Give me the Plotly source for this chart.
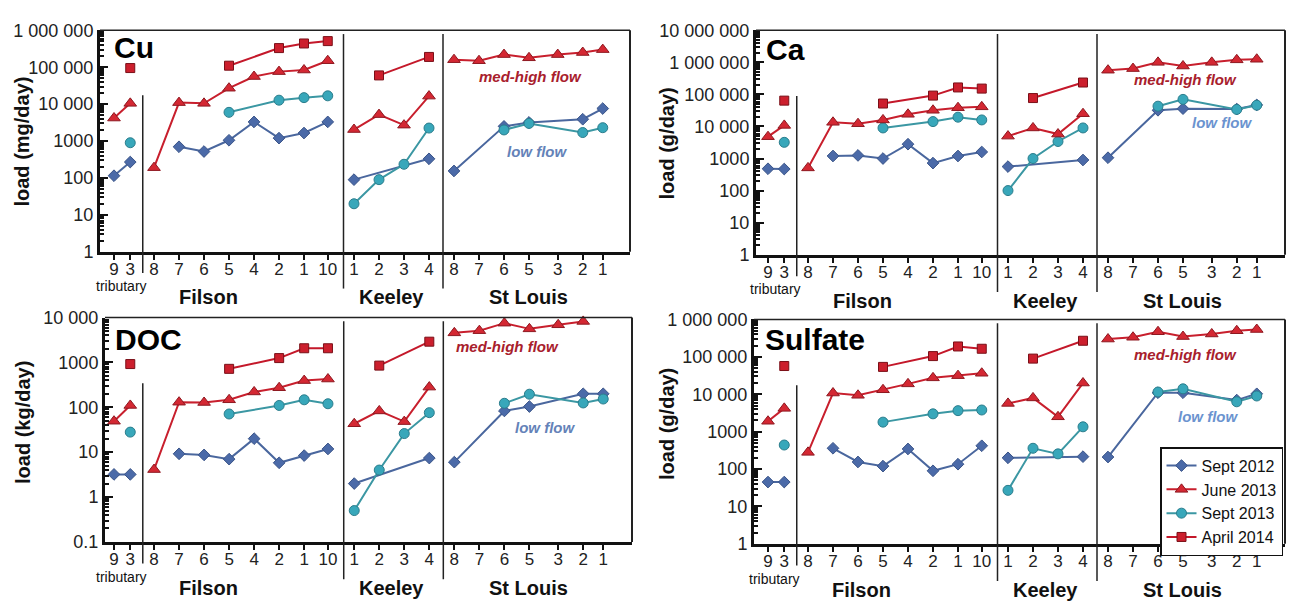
import plotly.graph_objects as go

# ---------------- data ----------------
site_ids = ["T9", "T3", "F8", "F7", "F6", "F5", "F4", "F2", "F1", "F10",
            "K1", "K2", "K3", "K4", "S8", "S7", "S6", "S5", "S3", "S2", "S1"]
site_ticks = ["9", "3", "8", "7", "6", "5", "4", "2", "1", "10",
              "1", "2", "3", "4", "8", "7", "6", "5", "3", "2", "1"]
site_group = ["T"] * 2 + ["F"] * 8 + ["K"] * 4 + ["S"] * 7
site_slot = [0.4, 1.05, 2, 3, 4, 5, 6, 7, 8, 8.95,
             10, 11, 12, 13, 14, 15, 16, 17, 18.15, 19.15, 19.95]

series_names = ["Sept 2012", "June 2013", "Sept 2013", "April 2014"]

N = None
cu_sept2012 = [115, 270, N, 700, 520, 1050, 3300, 1200, 1650, 3300, 90, N, N, 330, 155, N, 2500, 3200, N, 3900, 7600]
cu_june2013 = [4200, 10500, 190, 11000, 10500, 27000, 56000, 76000, 84000, 150000, 2050, 5200, 2700, 16500,
               160000, 150000, 220000, 180000, 220000, 250000, 300000]
cu_sept2013 = [N, 900, N, N, N, 6000, N, 12800, 15000, 16800, 20, 90, 235, 2250, N, N, 2000, 3000, N, 1700, 2300]
cu_april2014 = [N, 95000, N, N, N, 110000, N, 330000, 440000, 510000, N, 60000, N, 190000, N, N, N, N, N, N, N]

ca_sept2012 = [480, 470, N, 1200, 1250, 1000, 2800, 720, 1200, 1600, 560, N, N, 900, 1060, N, 32000, 36000, N, 35000, 47000]
ca_june2013 = [4800, 10800, 510, 13500, 12200, 16000, 24000, 32000, 38500, 41000, 5000, 9000, 5800, 25000,
               570000, 640000, 1000000, 770000, 1000000, 1200000, 1250000]
ca_sept2013 = [N, 3200, N, N, N, 9000, N, 14200, 19500, 16000, 100, 1000, 3400, 9000, N, N, 43000, 70000, N, 34000, 46000]
ca_april2014 = [N, 64000, N, N, N, 52000, N, 92000, 165000, 152000, N, 77000, N, 235000, N, N, N, N, N, N, N]

doc_sept2012 = [3.2, 3.2, N, 9.2, 8.7, 7.0, 20, 5.8, 8.4, 11.8, 2.0, N, N, 7.4, 6.0, N, 83, 104, N, 200, 200]
doc_june2013 = [49, 110, 4.1, 130, 128, 147, 220, 273, 394, 427, 43, 83, 48, 282,
                4560, 5100, 7500, 5600, 6900, 8200, N]
doc_sept2013 = [N, 28, N, N, N, 71, N, 110, 147, 120, 0.5, 4.0, 26, 76, N, N, 123, 196, N, 125, 153]
doc_april2014 = [N, 920, N, N, N, 720, N, 1250, 2070, 2070, N, 850, N, 2900, N, N, N, N, N, N, N]

so4_sept2012 = [45, 45, N, 360, 155, 120, 345, 90, 135, 420, 200, N, N, 215, 210, N, 11000, 11000, N, 7000, 10300]
so4_june2013 = [1900, 4200, 280, 10800, 9400, 13200, 19000, 27500, 31500, 36500, 5700, 8000, 2500, 20000,
                300000, 335000, 470000, 350000, 410000, 500000, 540000]
so4_sept2013 = [N, 440, N, N, N, 1800, N, 3000, 3650, 3800, 27, 360, 255, 1350, N, N, 11500, 14000, N, 6300, 9000]
so4_april2014 = [N, 57000, N, N, N, 54000, N, 105000, 190000, 165000, N, 90000, N, 270000, N, N, N, N, N, N, N]

panel_labels = ["Cu", "Ca", "DOC", "Sulfate"]
panel_units = ["load (mg/day)", "load (g/day)", "load (kg/day)", "load (g/day)"]
panel_series = [
    [cu_sept2012, cu_june2013, cu_sept2013, cu_april2014],
    [ca_sept2012, ca_june2013, ca_sept2013, ca_april2014],
    [doc_sept2012, doc_june2013, doc_sept2013, doc_april2014],
    [so4_sept2012, so4_june2013, so4_sept2013, so4_april2014],
]
panel_decades = [(0, 6), (0, 7), (-1, 4), (0, 6)]

# ---------------- layout geometry (pixels) ----------------
W, H = 1290, 609
boxes = [(100, 630, 21, 250), (756, 1285, 21, 253), (105, 632, 318, 550), (754, 1285, 320, 552)]
xranges = [(-0.16, 21.04), (-0.08, 21.08), (0.04, 21.1), (-0.16, 21.08)]
dividers = [1.55, 9.58, 13.56]
label_pos = [(38.5, 112), (41, 764), (341, 113), (340.5, 763)]
title_pos = [(22, 136), (667, 138), (23, 427), (667, 428)]
flow_labels = [  # (med-high x, y(log), low x, y(log))
    (17.04, 4.74, 17.32, 2.72),
    (17.08, 5.46, 18.56, 4.13),
    (16.14, 3.35, 17.62, 1.56),
    (17.08, 5.07, 18.0, 3.41),
]

styles = [
    dict(line=dict(color="#4a679e", width=2),
         marker=dict(symbol="diamond", size=9, color="#4b6aa8", line=dict(color="#3a5488", width=1))),
    dict(line=dict(color="#c81f2d", width=2),
         marker=dict(symbol="triangle-up", size=11, color="#d42833", line=dict(color="#8e1820", width=1))),
    dict(line=dict(color="#3b97a3", width=2),
         marker=dict(symbol="circle", size=10, color="#38a7ba", line=dict(color="#2b7d8c", width=1))),
    dict(line=dict(color="#c4182a", width=2),
         marker=dict(symbol="square", size=9, color="#cc1f2d", line=dict(color="#7a1018", width=1))),
]

FONT = "Liberation Sans, Arial, sans-serif"


def fmt(v):
    if v < 1:
        return "0.1"
    v = int(round(v))
    if v >= 10000:
        return "{:,}".format(v).replace(",", " ")
    return str(v)


fig = go.Figure()
layout = dict(
    width=W, height=H, margin=dict(l=0, r=0, t=0, b=0),
    paper_bgcolor="white", plot_bgcolor="white",
    font=dict(family=FONT, color="#111"),
    showlegend=True,
    legend=dict(x=1160 / W, y=1 - 452 / H, xanchor="left", yanchor="top",
                bgcolor="white", bordercolor="#111", borderwidth=1.5,
                font=dict(family=FONT, size=16, color="#111"),
                tracegroupgap=0, itemwidth=30),
)
shapes = []
annotations = []

for p in range(4):
    sfx = "" if p == 0 else str(p + 1)
    xa, ya = "x" + sfx, "y" + sfx
    x0, x1, y0, y1 = boxes[p]
    lo, hi = panel_decades[p]
    xr = xranges[p]

    tickvals = [10.0 ** d for d in range(lo, hi + 1)]
    minor_vals = [m * 10.0 ** d for d in range(lo, hi) for m in range(2, 10)]

    layout["xaxis" + sfx] = dict(
        domain=[x0 / W, x1 / W], anchor=ya, range=list(xr),
        tickmode="array", tickvals=site_slot, ticktext=site_ticks,
        ticks="outside", ticklen=5, tickwidth=1.5, tickcolor="#111",
        ticklabelstandoff=-5,
        tickfont=dict(family=FONT, size=17, color="#222"),
        showline=True, linewidth=3, linecolor="#111",
        showgrid=False, zeroline=False, fixedrange=True,
    )
    layout["yaxis" + sfx] = dict(
        domain=[1 - y1 / H, 1 - y0 / H], anchor=xa, type="log", range=[lo, hi],
        tickmode="array", tickvals=tickvals, ticktext=[fmt(v) for v in tickvals],
        ticks="inside", ticklen=8, tickwidth=2, tickcolor="#111",
        tickfont=dict(family=FONT, size=18, color="#222"),
        minor=dict(tickmode="array", tickvals=minor_vals, ticks="inside", ticklen=4,
                   tickwidth=1.5, tickcolor="#111", showgrid=False),
        showline=True, linewidth=3, linecolor="#111",
        showgrid=False, zeroline=False, fixedrange=True,
    )

    # thin top and right frame
    shapes.append(dict(type="line", xref=xa + " domain", yref=ya + " domain",
                       x0=0, x1=1, y0=1, y1=1, line=dict(color="#222", width=1.5)))
    shapes.append(dict(type="line", xref=xa + " domain", yref=ya + " domain",
                       x0=1, x1=1, y0=0, y1=1, line=dict(color="#222", width=2)))
    # group dividers
    for i, dv in enumerate(dividers):
        fx = (dv - xr[0]) / (xr[1] - xr[0])
        if i == 0:
            ya0, ya1 = -0.096, 0.707
        else:
            ya0, ya1 = -0.166, 0.983
        shapes.append(dict(type="line", xref=xa + " domain", yref=ya + " domain",
                           x0=fx, x1=fx, y0=ya0, y1=ya1, line=dict(color="#222", width=1.5)))

    # group labels under the axis
    annotations.append(dict(text="tributary", x=0.68, y=-0.155, xref=xa, yref=ya + " domain",
                            xanchor="center", yanchor="middle",
                            showarrow=False, font=dict(family=FONT, size=14, color="#111")))
    for name, gx in [("Filson", 4.16), ("Keeley", 11.5), ("St Louis", 16.96)]:
        annotations.append(dict(text="<b>" + name + "</b>", x=gx, y=-0.205, xref=xa, yref=ya + " domain",
                                xanchor="center", yanchor="middle",
                                showarrow=False, font=dict(family=FONT, size=20, color="#111")))

    # panel label
    ly, lx = label_pos[p]
    annotations.append(dict(text="<b>" + panel_labels[p] + "</b>", x=lx / W, y=1 - ly / H,
                            xref="paper", yref="paper", xanchor="left", yanchor="middle",
                            showarrow=False, font=dict(family=FONT, size=30, color="#000")))
    # y title
    tx, ty = title_pos[p]
    annotations.append(dict(text="<b>" + panel_units[p] + "</b>", x=tx / W, y=1 - ty / H,
                            xref="paper", yref="paper", xanchor="center", yanchor="middle",
                            textangle=-90, showarrow=False,
                            font=dict(family=FONT, size=20, color="#111")))
    # flow labels
    mx, my, lwx, lwy = flow_labels[p]
    annotations.append(dict(text="<b><i>med-high flow</i></b>", x=mx, y=my, xref=xa, yref=ya,
                            xanchor="center", yanchor="middle",
                            showarrow=False, font=dict(family=FONT, size=15, color="#a8202c")))
    annotations.append(dict(text="<b><i>low flow</i></b>", x=lwx, y=lwy, xref=xa, yref=ya,
                            xanchor="center", yanchor="middle", showarrow=False,
                            font=dict(family=FONT, size=15, color="#6482b8" if p % 2 == 0 else "#6b93cf")))

    # traces
    draw_order = [0, 2, 1, 3]
    for s in draw_order:
        vals = panel_series[p][s]
        first = True
        for g in ["T", "F", "K", "S"]:
            xs = [site_slot[i] for i in range(len(site_ids)) if site_group[i] == g and vals[i] is not None]
            ys = [vals[i] for i in range(len(site_ids)) if site_group[i] == g and vals[i] is not None]
            if not xs:
                continue
            show = (p == 3 and first)
            first = False
            fig.add_trace(go.Scatter(
                x=xs, y=ys, mode="lines+markers", xaxis=xa, yaxis=ya,
                name=series_names[s], legendgroup=series_names[s], legendrank=s + 1,
                showlegend=show, cliponaxis=False, hoverinfo="skip",
                line=styles[s]["line"], marker=styles[s]["marker"],
            ))

layout["shapes"] = shapes
layout["annotations"] = annotations
fig.update_layout(**layout)
fig.write_html("out.html")
